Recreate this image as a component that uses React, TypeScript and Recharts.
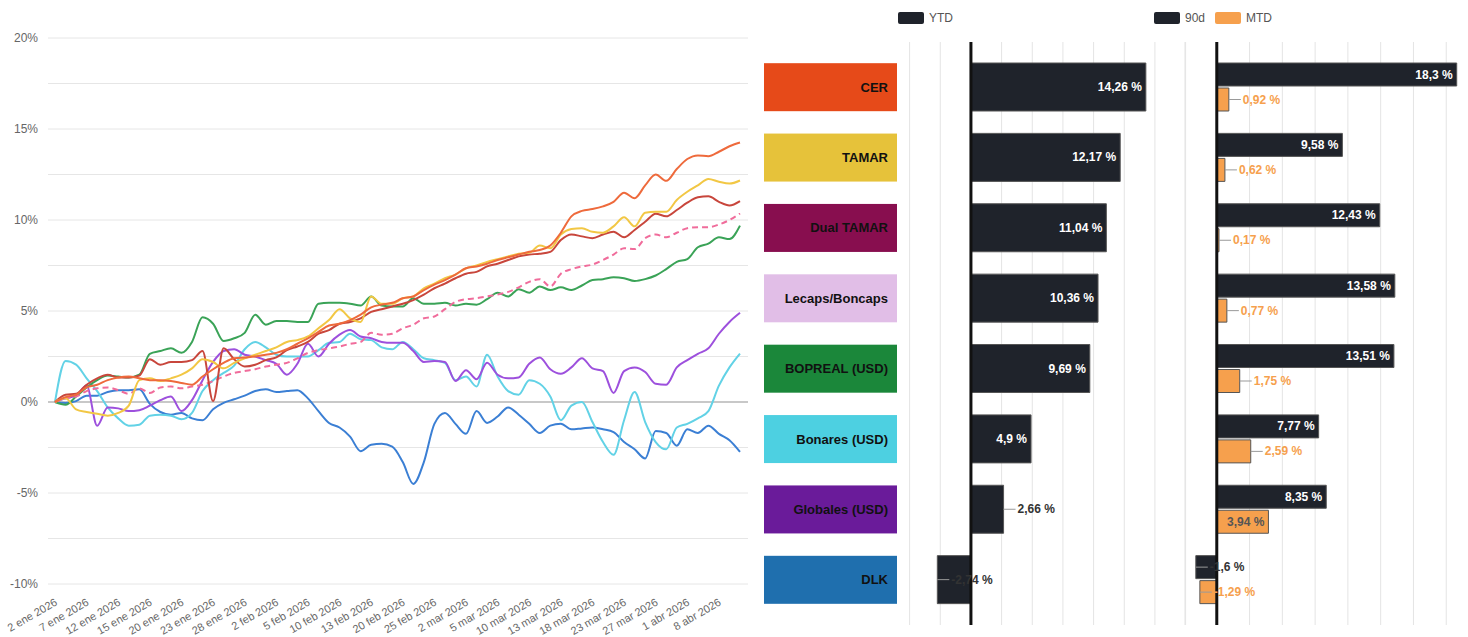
import React from 'react';
import { LineChart, Line, BarChart, Bar, XAxis, YAxis, CartesianGrid, ReferenceLine } from 'recharts';

const dates = [
  '2 ene 2026', '5 ene 2026', '6 ene 2026', '7 ene 2026', '8 ene 2026', '9 ene 2026', '12 ene 2026', '13 ene 2026',
  '14 ene 2026', '15 ene 2026', '16 ene 2026', '19 ene 2026', '20 ene 2026', '21 ene 2026', '22 ene 2026', '23 ene 2026',
  '26 ene 2026', '27 ene 2026', '28 ene 2026', '29 ene 2026', '30 ene 2026', '2 feb 2026', '3 feb 2026', '4 feb 2026',
  '5 feb 2026', '6 feb 2026', '9 feb 2026', '10 feb 2026', '11 feb 2026', '12 feb 2026', '13 feb 2026', '18 feb 2026',
  '19 feb 2026', '20 feb 2026', '23 feb 2026', '24 feb 2026', '25 feb 2026', '26 feb 2026', '27 feb 2026', '2 mar 2026',
  '3 mar 2026', '4 mar 2026', '5 mar 2026', '6 mar 2026', '9 mar 2026', '10 mar 2026', '11 mar 2026', '12 mar 2026',
  '13 mar 2026', '16 mar 2026', '17 mar 2026', '18 mar 2026', '19 mar 2026', '20 mar 2026', '23 mar 2026', '25 mar 2026',
  '26 mar 2026', '27 mar 2026', '30 mar 2026', '31 mar 2026', '1 abr 2026', '6 abr 2026', '7 abr 2026', '8 abr 2026',
  '9 abr 2026', '10 abr 2026',
];

// cumulative return, % since 2 ene
const cer = [
  0, 0.27, 0.4, 0.8, 0.95, 1.2, 1.35, 1.4, 1.3, 1.2, 1.2, 1.15, 1.05, 0.95, 1.4, 1.8, 2.15, 2.4, 2.45, 2.5, 2.6, 2.7, 2.9,
  3.2, 3.5, 3.85, 4.2, 4.3, 4.5, 4.8, 5.2, 5.35, 5.45, 5.7, 5.8, 6.15, 6.45, 6.7, 7.0, 7.35, 7.45, 7.6, 7.8, 7.95, 8.1, 8.25,
  8.35, 8.6, 9.3, 10.2, 10.5, 10.6, 10.75, 11.0, 11.5, 11.2, 11.9, 12.5, 12.15, 12.8, 13.35, 13.55, 13.5, 13.75, 14.05, 14.26,
];
const tamar = [
  0, 0.2, -0.4, -0.55, -0.65, -0.75, -0.6, -0.2, 1.2, 1.3, 1.15, 1.3, 1.5, 1.85, 2.35, 2.2, 1.85, 2.15, 2.4, 2.6, 2.8, 3.0, 3.3,
  3.4, 3.6, 4.05, 4.5, 5.1, 4.6, 4.4, 5.8, 5.4, 5.4, 5.7, 5.8, 6.25, 6.5, 6.8, 7.0, 7.35, 7.5, 7.7, 7.85, 8.0, 8.15, 8.2,
  8.6, 8.45, 9.2, 9.5, 9.55, 9.35, 9.3, 9.65, 10.15, 9.65, 10.4, 10.45, 10.45, 11.1, 11.55, 11.9, 12.25, 12.1, 12.0, 12.17,
];
const dualTamar = [
  0, 0.4, 0.45, 0.95, 1.3, 1.5, 1.35, 1.35, 1.45, 2.35, 2.05, 2.2, 2.2, 2.3, 2.8, 0.05, 2.95, 2.35, 1.95, 2.05, 2.3, 2.45, 2.85,
  3.05, 3.3, 3.75, 3.95, 4.3, 4.4, 4.6, 4.95, 5.1, 5.25, 5.4, 5.6, 5.9, 6.25, 6.5, 6.8, 7.05, 7.15, 7.45, 7.6, 7.8, 8.0, 8.1,
  8.15, 8.25, 8.9, 9.2, 9.1, 9.0, 9.2, 9.35, 9.05, 9.45, 9.9, 10.35, 10.2, 10.55, 10.95, 11.25, 11.3, 11.0, 10.8, 11.04,
];
const lecaps = [
  0, 0.2, 0.3, 0.6, 0.75, 0.8, 0.65, 0.45, 0.75, 0.5, 0.8, 0.85, 0.75, 0.85, 0.95, 1.15, 1.4, 1.6, 1.7, 1.8, 1.95, 2.05, 2.15,
  2.4, 2.7, 2.85, 2.95, 3.05, 3.2, 3.3, 3.8, 3.7, 3.75, 4.05, 4.25, 4.6, 4.7, 5.1, 5.5, 5.65, 5.7, 5.8, 5.9, 6.05, 6.3, 6.6,
  6.75, 6.35, 7.05, 7.3, 7.45, 7.55, 7.8, 8.1, 8.45, 8.4, 9.0, 9.2, 9.05, 9.3, 9.55, 9.6, 9.6, 9.75, 10.0, 10.36,
];
const bopreal = [
  0, -0.15, 0.3, 0.8, 1.2, 1.45, 1.4, 1.35, 1.5, 2.65, 2.8, 2.95, 2.7, 3.3, 4.65, 4.3, 3.35, 3.5, 3.8, 4.8, 4.25, 4.45, 4.45,
  4.4, 4.4, 5.4, 5.45, 5.45, 5.4, 5.3, 5.8, 5.3, 5.25, 5.25, 5.7, 5.4, 5.4, 5.45, 5.3, 5.4, 5.35, 5.65, 6.0, 5.8, 6.2, 6.0,
  6.35, 6.15, 6.3, 6.15, 6.4, 6.7, 6.75, 6.85, 6.8, 6.65, 6.75, 6.95, 7.3, 7.7, 7.85, 8.5, 8.7, 9.05, 8.95, 9.69,
];
const bonares = [
  0, 0.2, 0.35, 0.9, -1.3, -0.3, -0.35, -0.5, -0.45, -0.2, 0.1, 0.3, -0.5, 0.1, 1.2, 2.2, 2.8, 2.9, 2.6, 2.5, 2.3, 2.1, 1.5,
  2.1, 3.2, 2.5, 3.2, 3.7, 3.95, 3.6, 3.5, 3.3, 3.25, 3.25, 2.8, 2.2, 2.25, 2.2, 1.15, 1.75, 1.25, 2.15, 1.5, 1.3, 1.35, 2.1,
  2.45, 1.8, 1.55, 1.9, 2.4, 1.85, 1.7, 0.5, 1.7, 1.9, 1.65, 1.0, 0.95, 1.9, 2.3, 2.65, 2.95, 3.75, 4.4, 4.9,
];
const globales = [
  0, 2.25, 2.05, 1.3, 0.6, -0.3, -0.9, -1.3, -1.25, -0.75, -0.7, -0.75, -0.95, -0.6, 0.6, 1.2, 1.6, 2.0, 2.9, 3.3, 3.0, 2.6, 2.5,
  2.5, 2.5, 2.85, 3.25, 3.3, 3.75, 3.45, 3.4, 3.0, 2.9, 3.3, 2.9, 2.4, 2.3, 2.15, 1.2, 1.4, 0.85, 2.6, 1.4, 0.6, 0.4, 1.2,
  1.0, 0.3, -1.0, -0.2, 0.0, -1.1, -2.2, -2.9, -1.0, 0.55, -1.1, -2.2, -2.6, -1.4, -1.2, -0.9, -0.5, 0.9, 1.9, 2.66,
];
const dlk = [
  0, -0.05, 0.05, 0.35, 0.35, 0.55, 0.65, 0.65, 0.7, -0.1, -0.55, -0.7, -0.6, -0.9, -1.0, -0.4, -0.05, 0.15, 0.35, 0.6, 0.7, 0.55, 0.6,
  0.65, 0.2, -0.5, -1.15, -1.4, -1.9, -2.7, -2.35, -2.3, -2.45, -3.3, -4.5, -3.3, -1.2, -0.6, -1.2, -1.75, -0.5, -1.15, -0.8, -0.3, -0.7, -1.2,
  -1.7, -1.3, -1.2, -1.5, -1.45, -1.4, -1.5, -1.65, -2.2, -2.6, -3.1, -1.6, -1.7, -2.4, -1.5, -1.7, -1.3, -1.75, -2.1, -2.74,
];

const categories = ['CER', 'TAMAR', 'Dual TAMAR', 'Lecaps/Boncaps', 'BOPREAL (USD)', 'Bonares (USD)', 'Globales (USD)', 'DLK'];
const ytd = [14.26, 12.17, 11.04, 10.36, 9.69, 4.9, 2.66, -2.74];
const d90 = [18.3, 9.58, 12.43, 13.58, 13.51, 7.77, 8.35, -1.6];
const mtd = [0.92, 0.62, 0.17, 0.77, 1.75, 2.59, 3.94, -1.29];
const boxColors = ['#e64a19', '#e6c23a', '#880e4f', '#e1bee7', '#1b873a', '#4dd0e1', '#6a1b9a', '#1f6fae'];

const lineTicks = [-10, -7.5, -5, -2.5, 0, 2.5, 5, 7.5, 10, 12.5, 15, 17.5, 20];
const ytdTicks = [-5, -2.5, 0, 2.5, 5, 7.5, 10, 12.5, 15, 17.5];
const d90Ticks = [-2.5, 0, 2.5, 5, 7.5, 10, 12.5, 15, 17.5, 20];

const lineData = dates.map((date, i) => ({
  date,
  cer: cer[i],
  tamar: tamar[i],
  dualTamar: dualTamar[i],
  lecaps: lecaps[i],
  bopreal: bopreal[i],
  bonares: bonares[i],
  globales: globales[i],
  dlk: dlk[i],
}));

const barData = categories.map((name, i) => ({ name, ytd: ytd[i], d90: d90[i], mtd: mtd[i] }));

const series = [
  { key: 'dlk', color: '#3b7fd4' },
  { key: 'globales', color: '#62d2e6' },
  { key: 'bonares', color: '#9d50dd' },
  { key: 'bopreal', color: '#3aa357' },
  { key: 'lecaps', color: '#f06c9b', dash: '6 4' },
  { key: 'dualTamar', color: '#c8463c' },
  { key: 'tamar', color: '#f2c744' },
  { key: 'cer', color: '#ee6a3c' },
];

const FONT = '"Liberation Sans", Arial, sans-serif';
const DARK = '#1f232b';
const ORANGE = '#f6a04d';

const fmt = (v: number) => `${String(v).replace('.', ',')} %`;

const DateTick = (props: any) => {
  const { x, y, payload } = props;
  return (
    <g transform={`translate(${x + 1},${y + 9}) rotate(-30)`}>
      <text x={0} y={0} dy={4} textAnchor="end" fill="#666" fontSize={11} fontFamily={FONT}>
        {payload.value}
      </text>
    </g>
  );
};

const BoxTick = (props: any) => {
  const { y, payload } = props;
  const i = categories.indexOf(payload.value);
  return (
    <g>
      <rect x={4} y={y - 24} width={133} height={48} fill={boxColors[i]} />
      <text x={128} y={y} textAnchor="end" dominantBaseline="central" fill="#111" fontSize={13} fontWeight="bold" fontFamily={FONT}>
        {payload.value}
      </text>
    </g>
  );
};

const makeLabel = (insideFill: string, outsideFill: string) => (props: any) => {
  const { x, y, width, height, value } = props;
  const text = fmt(value);
  const w = Math.abs(width);
  const end = value < 0 ? Math.min(x, x + width) : Math.max(x, x + width);
  const cy = y + height / 2;
  const tw = text.length * 6.6;
  if (w >= tw + 10) {
    return (
      <text x={end - 4} y={cy} textAnchor="end" dominantBaseline="central" fill={insideFill} fontSize={12} fontWeight="bold" fontFamily={FONT}>
        {text}
      </text>
    );
  }
  return (
    <g>
      <line x1={end} x2={end + 12} y1={cy} y2={cy} stroke="#999" />
      <text x={end + 14} y={cy} textAnchor="start" dominantBaseline="central" fill={outsideFill} fontSize={12} fontWeight="bold" fontFamily={FONT}>
        {text}
      </text>
    </g>
  );
};

const LegendItem = ({ color, label }: { color: string; label: string }) => (
  <span style={{ display: 'inline-flex', alignItems: 'center', marginRight: 10 }}>
    <span style={{ display: 'inline-block', width: 26, height: 12, background: color, borderRadius: 2, marginRight: 5 }} />
    <span style={{ color: '#555', fontSize: 12 }}>{label}</span>
  </span>
);

export default function App() {
  return (
    <div style={{ position: 'absolute', left: 0, top: 0, width: 1468, height: 637, overflow: 'hidden', background: '#fff', fontFamily: FONT }}>
      <div style={{ position: 'absolute', left: 0, top: 0 }}>
        <LineChart width={760} height={637} data={lineData} margin={{ top: 38, right: 12, bottom: 0, left: 0 }}>
          <CartesianGrid vertical={false} stroke="#e6e6e6" />
          <XAxis
            dataKey="date"
            interval={2}
            tick={<DateTick />}
            tickLine={false}
            axisLine={false}
            height={53}
            padding={{ left: 7, right: 8 }}
          />
          <YAxis
            type="number"
            domain={[-10, 20]}
            ticks={lineTicks}
            interval={0}
            tickFormatter={(v: number) => (v % 5 === 0 ? `${v}%` : '')}
            tick={{ fill: '#666', fontSize: 12, fontFamily: FONT }}
            tickLine={false}
            axisLine={false}
            tickMargin={4}
            width={48}
          />
          <ReferenceLine y={0} stroke="#c8c8c8" strokeWidth={2} />
          {series.map((s) => (
            <Line
              key={s.key}
              type="monotone"
              dataKey={s.key}
              stroke={s.color}
              strokeWidth={2}
              strokeDasharray={s.dash}
              dot={false}
              activeDot={false}
              isAnimationActive={false}
            />
          ))}
        </LineChart>
      </div>

      <div style={{ position: 'absolute', left: 760, top: 0 }}>
        <BarChart width={430} height={637} data={barData} layout="vertical" margin={{ top: 42, right: 4.4, bottom: 12, left: 0 }}>
          <CartesianGrid horizontal={false} stroke="#e4e4e4" />
          <XAxis
            type="number"
            domain={[-5, 17.5]}
            ticks={ytdTicks}
            interval={0}
            tick={{ fontSize: 0, fill: 'transparent' }}
            tickLine={false}
            axisLine={false}
            height={0}
          />
          <YAxis
            type="category"
            dataKey="name"
            width={149.6}
            tick={<BoxTick />}
            tickLine={false}
            axisLine={false}
            padding={{ top: 10, bottom: 10 }}
          />
          <Bar dataKey="ytd" fill={DARK} stroke="#555" strokeWidth={1} barSize={48} isAnimationActive={false} label={makeLabel('#ffffff', '#333')} />
          <ReferenceLine x={0} stroke="#111" strokeWidth={3} />
        </BarChart>
      </div>

      <div style={{ position: 'absolute', left: 1184, top: 0 }}>
        <BarChart width={296} height={637} data={barData} layout="vertical" barGap={2} margin={{ top: 42, right: 1, bottom: 12, left: 0 }}>
          <CartesianGrid horizontal={false} stroke="#e4e4e4" />
          <XAxis
            type="number"
            domain={[-2.5, 20]}
            ticks={d90Ticks}
            interval={0}
            tick={{ fontSize: 0, fill: 'transparent' }}
            tickLine={false}
            axisLine={false}
            height={0}
          />
          <YAxis type="category" dataKey="name" hide padding={{ top: 10, bottom: 10 }} />
          <Bar dataKey="d90" fill={DARK} stroke="#555" strokeWidth={1} barSize={23} isAnimationActive={false} label={makeLabel('#ffffff', '#333')} />
          <Bar dataKey="mtd" fill={ORANGE} stroke="#555" strokeWidth={1} barSize={23} isAnimationActive={false} label={makeLabel('#555', ORANGE)} />
          <ReferenceLine x={0} stroke="#111" strokeWidth={3} />
        </BarChart>
      </div>

      <div style={{ position: 'absolute', left: 898, top: 11, display: 'flex' }}>
        <LegendItem color={DARK} label="YTD" />
      </div>
      <div style={{ position: 'absolute', left: 1154, top: 11, display: 'flex' }}>
        <LegendItem color={DARK} label="90d" />
        <LegendItem color={ORANGE} label="MTD" />
      </div>
    </div>
  );
}
